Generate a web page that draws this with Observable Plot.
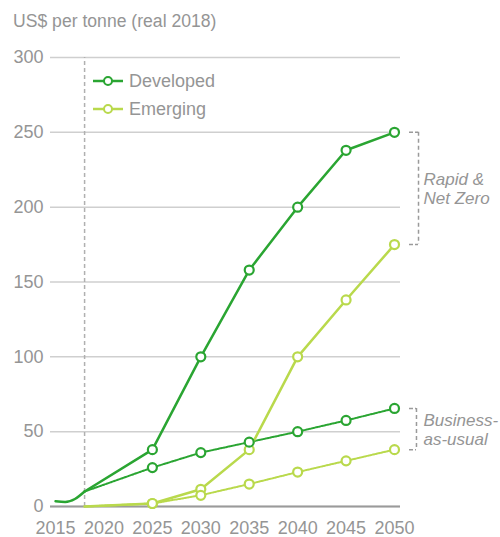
<!DOCTYPE html>
<html>
<head>
<meta charset="utf-8">
<script src="https://cdn.jsdelivr.net/npm/d3@7"></script>
<script src="https://cdn.jsdelivr.net/npm/@observablehq/plot@0.6"></script>
<style>
  html, body { margin: 0; padding: 0; background: #fff; }
  #wrap { position: relative; width: 500px; height: 537px; font-family: "Liberation Sans", Arial, sans-serif; }
  #title { position: absolute; left: 13px; top: 11px; font-size: 17.6px; color: #959595; }
  #chart { position: absolute; left: 0; top: 40px; }
  .leg { position: absolute; left: 93px; height: 20px; display: flex; align-items: center; font-size: 18px; color: #959595; }
  .leg svg { margin-right: 4px; }
</style>
</head>
<body>
<div id="wrap">
  <div id="title">US$ per tonne (real 2018)</div>
  <div id="chart"></div>
  <div id="legend"></div>
</div>
<script>
// ---- data ----
const years = [2025, 2030, 2035, 2040, 2045, 2050];
const historyYears = [2015, 2016, 2017, 2018];
const historyDeveloped = [3.5, 3, 5, 10];
const startYear = 2018;
const developedStart = 10;
const emergingStart = 0;
const developedRapid = [38, 100, 158, 200, 238, 250];
const emergingRapid = [2, 11.5, 38, 100, 138, 175];
const developedBAU = [26, 36, 43, 50, 57.5, 65.5];
const emergingBAU = [2, 7.5, 15, 23, 30.5, 38];
const seriesNames = ["Developed", "Emerging"];
const seriesColors = ["#2aa532", "#b9d94c"];
const yTicks = [0, 50, 100, 150, 200, 250, 300];
const xTicks = [2015, 2020, 2025, 2030, 2035, 2040, 2045, 2050];
const scenarioLabels = ["Rapid &\nNet Zero", "Business-\nas-usual"];

// ---- build tables ----
function series(name, scenario, start, vals) {
  return [{year: startYear, value: start, name, scenario}].concat(
    years.map((y, i) => ({year: y, value: vals[i], name, scenario})));
}
const rapid = series("Developed", "rapid", developedStart, developedRapid)
  .concat(series("Emerging", "rapid", emergingStart, emergingRapid));
const bau = series("Developed", "bau", developedStart, developedBAU)
  .concat(series("Emerging", "bau", emergingStart, emergingBAU));
const history = historyYears.map((y, i) => ({year: y, value: historyDeveloped[i], name: "Developed"}));
const dots = rapid.concat(bau).filter(d => d.year !== startYear);

const colorOf = n => seriesColors[seriesNames.indexOf(n)];
const textGrey = "#959595";

const brackets = [
  {top: developedRapid.at(-1), bottom: emergingRapid.at(-1), label: scenarioLabels[0], xv: 2052.48},
  {top: developedBAU.at(-1), bottom: emergingBAU.at(-1), label: scenarioLabels[1], xv: 2052.27}
];
brackets.forEach(b => b.mid = (b.top + b.bottom) / 2);
const bracketEnds = brackets.flatMap(b => [{y: b.top, xv: b.xv}, {y: b.bottom, xv: b.xv}]);

const plot = Plot.plot({
  width: 500,
  height: 497,
  marginTop: 17,
  marginBottom: 31,
  marginLeft: 50,
  marginRight: 100,
  style: {fontFamily: "'Liberation Sans', Arial, sans-serif", background: "transparent"},
  x: {domain: [2014.48, 2050.62]},
  y: {domain: [0, 300]},
  marks: [
    Plot.gridY(yTicks, {stroke: "#cfcfcf", strokeOpacity: 1, strokeWidth: 1.5}),
    Plot.ruleY([0], {stroke: "#9a9a9a", strokeWidth: 2}),
    Plot.axisY(yTicks, {tickSize: 0, tickPadding: 7, fontSize: 18, fill: textGrey, label: null}),
    Plot.axisX(xTicks, {tickSize: 0, tickPadding: 15, fontSize: 18, fill: textGrey, label: null, tickFormat: d => String(d)}),
    Plot.ruleX([startYear], {y1: 0, y2: 300, stroke: "#b0b0b0", strokeWidth: 1.5, strokeDasharray: "4,3"}),
    // history
    Plot.line(history, {x: "year", y: "value", stroke: seriesColors[0], strokeWidth: 2.5, curve: "monotone-x"}),
    // BAU dotted
    Plot.line(bau, {x: "year", y: "value", z: "name", stroke: d => colorOf(d.name), strokeWidth: 2, strokeDasharray: "1.6,1.2"}),
    // rapid solid
    Plot.line(rapid, {x: "year", y: "value", z: "name", stroke: d => colorOf(d.name), strokeWidth: 2.5}),
    Plot.dot(dots, {x: "year", y: "value", r: 4.5, fill: "white", stroke: d => colorOf(d.name), strokeWidth: 2.2}),
    // brackets
    Plot.ruleX(brackets, {x: "xv", y1: "top", y2: "bottom", stroke: "#9a9a9a", strokeWidth: 1.5, strokeDasharray: "4,3"}),
    Plot.ruleY(bracketEnds, {y: "y", x1: 2051.55, x2: "xv", stroke: "#9a9a9a", strokeWidth: 1.5, strokeDasharray: "4,2"}),
    Plot.text(brackets, {x: 2050, y: "mid", dx: 29, text: "label", textAnchor: "start", lineAnchor: "middle", lineHeight: 1.15, fontSize: 17, fontStyle: "italic", fill: textGrey})
  ]
});
document.getElementById("chart").appendChild(plot);

// legend
const leg = document.getElementById("legend");
seriesNames.forEach((n, i) => {
  const div = document.createElement("div");
  div.className = "leg";
  div.style.top = (71 + i * 28) + "px";
  div.innerHTML = `<svg width="32" height="12"><line x1="0" y1="6" x2="30" y2="6" stroke="${seriesColors[i]}" stroke-width="2.5"/><circle cx="15" cy="6" r="4" fill="white" stroke="${seriesColors[i]}" stroke-width="2"/></svg><span>${n}</span>`;
  leg.appendChild(div);
});
</script>
</body>
</html>
